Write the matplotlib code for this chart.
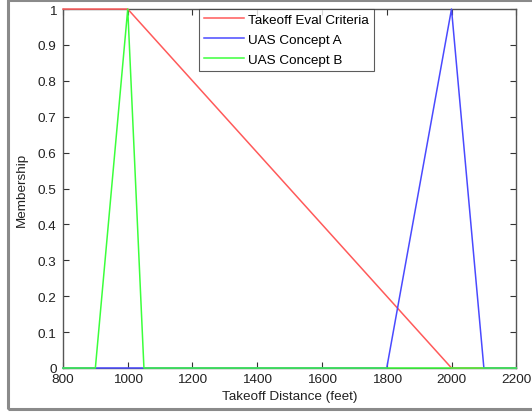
import matplotlib.pyplot as plt
from matplotlib.patches import Rectangle

plt.rcParams['font.family'] = ['Liberation Sans', 'DejaVu Sans']

# Membership functions (takeoff distance in feet)
dist_crit = [800, 1000, 2000, 2200]
memb_crit = [1, 1, 0, 0]

dist_a = [800, 1800, 2000, 2100, 2200]
memb_a = [0, 0, 1, 0, 0]

dist_b = [800, 900, 1000, 1050, 2200]
memb_b = [0, 0, 1, 0, 0]

xticks = [800, 1000, 1200, 1400, 1600, 1800, 2000, 2200]
yticks = [0, 0.1, 0.2, 0.3, 0.4, 0.5, 0.6, 0.7, 0.8, 0.9, 1]
ytick_labels = ['0', '0.1', '0.2', '0.3', '0.4', '0.5', '0.6', '0.7', '0.8', '0.9', '1']

fs = 9.7

fig = plt.figure(figsize=(5.32, 4.14), dpi=100)
# grey frame round the picture (right side falls outside the crop)
fig.patches.append(Rectangle((0.0155, 0.009), 1.1, 0.988, transform=fig.transFigure,
                             fill=False, edgecolor='#8a8a8a', linewidth=2.2))

ax = fig.add_axes([0.1184, 0.1087, 0.852, 0.867])
ax.plot(dist_crit, memb_crit, color='#ff5a5a', linewidth=1.1, label='Takeoff Eval Criteria',
        clip_on=False, zorder=3)
ax.plot(dist_a, memb_a, color='#4a4aff', linewidth=1.1, label='UAS Concept A',
        clip_on=False, zorder=3)
ax.plot(dist_b, memb_b, color='#3cff3c', linewidth=1.1, label='UAS Concept B',
        clip_on=False, zorder=3)

ax.set_xlim(800, 2200)
ax.set_ylim(0, 1)
ax.set_xticks(xticks)
ax.set_yticks(yticks)
ax.set_yticklabels(ytick_labels)
ax.tick_params(direction='in', top=True, right=True, labelsize=fs, length=4, width=0.8,
               colors='#333333', labelcolor='#222222')
ax.tick_params(axis='x', pad=3.5)
ax.tick_params(axis='y', pad=4.5)
for s in ax.spines.values():
    s.set_color('#555555')
    s.set_linewidth(1.0)

ax.set_xlabel('Takeoff Distance (feet)', fontsize=fs, labelpad=4, color='#222222')
ax.set_ylabel('Membership', fontsize=fs, labelpad=7, color='#222222')

leg = ax.legend(loc='upper left', bbox_to_anchor=(0.300, 1.0), fontsize=fs,
                frameon=True, fancybox=False, borderaxespad=0, handlelength=3.0,
                handletextpad=0.3, labelspacing=0.55, borderpad=0.35)
leg.set_zorder(5)
leg.get_frame().set_edgecolor('#333333')
leg.get_frame().set_linewidth(0.8)

plt.savefig('out.png', dpi=100)
